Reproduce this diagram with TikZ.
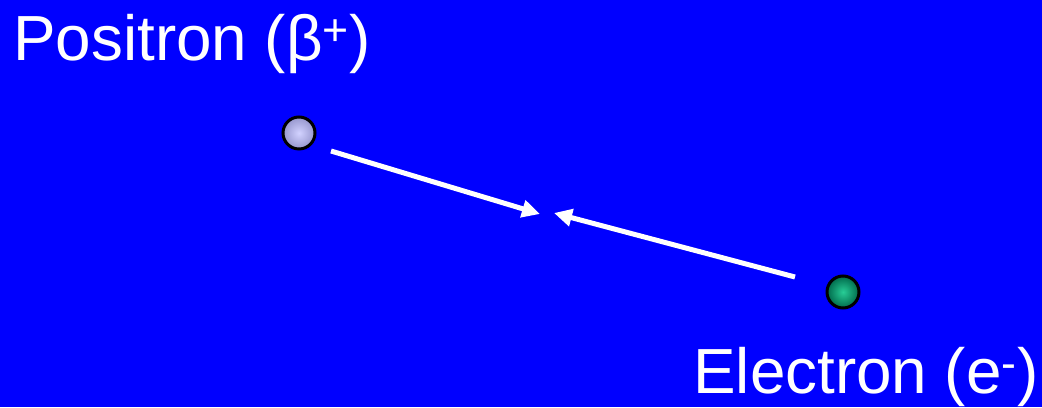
\documentclass[tikz,border=0pt]{standalone}
\usepackage{fontspec}
\setmainfont{Liberation Sans}
\usepackage{tikz}
\usetikzlibrary{arrows.meta, positioning}
\definecolor{slideblue}{RGB}{0,0,255}
\definecolor{posin}{RGB}{210,210,255}
\definecolor{posout}{RGB}{150,150,205}
\definecolor{elin}{RGB}{40,205,150}
\definecolor{elout}{RGB}{0,105,75}
\newcommand{\biglabel}{\fontsize{36.3}{40}\selectfont}

\begin{document}
\begin{tikzpicture}[x=0.02cm, y=-0.02cm,
  particle/.style={draw=black, line width=0.06cm, circle, minimum size=0.64cm, inner sep=0pt},
  label/.style={text=white, anchor=base west, inner sep=0pt, font=\biglabel},
  move/.style={draw=white, line width=0.1cm, -{Triangle[length=0.36cm, width=0.34cm]}}]
\fill[slideblue] (0,0) rectangle (1042,407);

\node[label] (postext) at (13,61) {Positron (β\textsuperscript{+})};
\node[label] (eltext) at (693,394) {Electron (e\textsuperscript{-})};

\node[particle, inner color=posin, outer color=posout] (pos) at (299,133) {};
\node[particle, inner color=elin, outer color=elout] (el) at (843,292) {};

\coordinate (posstart) at (331,151);
\coordinate (postip) at (540,214);
\coordinate (elstart) at (795,277);
\coordinate (eltip) at (554,213);
\draw[move] (posstart) -- (postip);
\draw[move] (elstart) -- (eltip);
\end{tikzpicture}
\end{document}
